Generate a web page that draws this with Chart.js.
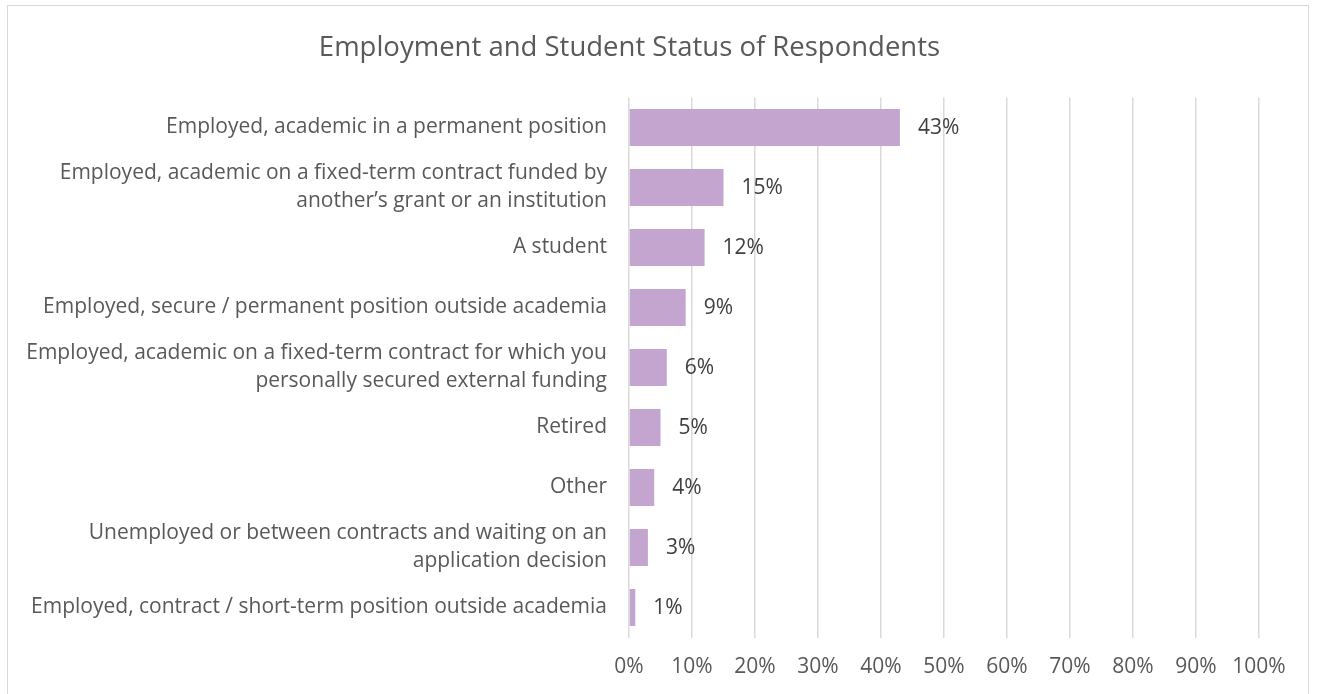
<!DOCTYPE html>
<html>
<head>
<meta charset="utf-8">
<title>Employment and Student Status of Respondents</title>
<script src="https://cdn.jsdelivr.net/npm/chart.js@4"></script>
<style>
  html, body { margin: 0; padding: 0; background: #fff; }
  #wrap { position: relative; width: 1317px; height: 694px; overflow: hidden; }
  #frame {
    position: absolute; left: 7px; top: 5px; width: 1302px; height: 720px;
    border: 1px solid #d9d9d9; box-sizing: border-box;
  }
  #statusChart { position: absolute; left: 0; top: 0; }
</style>
</head>
<body>
<div id="wrap">
  <div id="frame"></div>
  <canvas id="statusChart" width="1317" height="694"></canvas>
</div>
<script>
// ==========================
// DATA
// ==========================
const categories = [
  "Employed, academic in a permanent position",
  ["Employed, academic on a fixed-term contract funded by", "another’s grant or an institution"],
  "A student",
  "Employed, secure / permanent position outside academia",
  ["Employed, academic on a fixed-term contract for which you", "personally secured external funding"],
  "Retired",
  "Other",
  ["Unemployed or between contracts and waiting on an", "application decision"],
  "Employed, contract / short-term position outside academia"
];
const shares = [43, 15, 12, 9, 6, 5, 4, 3, 1]; // percent of respondents
const axisMin = 0;
const axisMax = 100;
const axisStep = 10;

// ==========================
// STYLE
// ==========================
const FONT = "'Open Sans', sans-serif";
const barColor = "#c3a5cf";
const gridColor = "#d9d9d9";

// value labels at the end of each bar
const barValueLabels = {
  id: "barValueLabels",
  afterDatasetsDraw(chart) {
    const { ctx } = chart;
    const meta = chart.getDatasetMeta(0);
    ctx.save();
    ctx.font = "21px " + FONT;
    ctx.fillStyle = "#404040";
    ctx.textAlign = "left";
    ctx.textBaseline = "middle";
    meta.data.forEach((bar, i) => {
      ctx.fillText(shares[i] + "%", bar.x + 18, bar.y + 1);
    });
    ctx.restore();
  }
};

// ==========================
// CHART
// ==========================
const ctx = document.getElementById("statusChart").getContext("2d");

new Chart(ctx, {
  type: "bar",
  data: {
    labels: categories,
    datasets: [{
      data: shares,
      backgroundColor: barColor,
      borderWidth: 0,
      categoryPercentage: 1,
      barPercentage: 0.617
    }]
  },
  plugins: [barValueLabels],
  options: {
    indexAxis: "y",
    responsive: false,
    animation: false,
    layout: { padding: { left: 0, right: 58, top: 0, bottom: 0 } },
    plugins: {
      legend: { display: false },
      tooltip: { enabled: false },
      title: {
        display: true,
        text: "Employment and Student Status of Respondents",
        color: "#595959",
        font: { family: FONT, size: 27.5, weight: "normal", lineHeight: 1.2 },
        padding: { top: 32, bottom: 32.5 }
      }
    },
    scales: {
      x: {
        min: axisMin,
        max: axisMax,
        border: { display: false },
        grid: { color: gridColor, lineWidth: 1.5, drawTicks: false },
        ticks: {
          stepSize: axisStep,
          padding: 17,
          color: "#595959",
          font: { family: FONT, size: 21 },
          callback: v => v + "%"
        },
        afterFit: scale => { scale.height = 56.5; }
      },
      y: {
        border: { display: false },
        grid: { display: false, drawTicks: false },
        ticks: {
          padding: 22,
          color: "#595959",
          font: { family: FONT, size: 21, lineHeight: 1.333 }
        },
        afterFit: scale => { scale.width = 629; }
      }
    }
  }
});
</script>
</body>
</html>
